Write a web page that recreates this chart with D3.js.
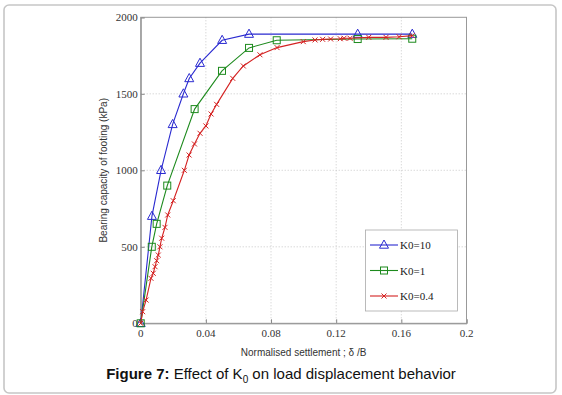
<!DOCTYPE html>
<html lang="en">
<head>
    <meta charset="UTF-8">
    <title>Effect of K0 on load displacement behavior</title>
    <script src="https://d3js.org/d3.v7.min.js"></script>
    <style>
        body { margin: 0; background: #fff; font-family: Arial, "Liberation Sans", sans-serif; }
        .tick-label { font-family: "Liberation Serif", "Times New Roman", serif; font-size: 11px; fill: #333; }
        .axis-title { font-size: 10px; fill: #333; }
        .legend-label { font-family: "Liberation Serif", "Times New Roman", serif; font-size: 11px; fill: #222; }
    </style>
</head>
<body>
<svg width="562" height="395"></svg>
<script>
    // K0 = 10
    const xK10 = [0, 0.0069, 0.0125, 0.0196, 0.0262, 0.0298, 0.0364, 0.050, 0.0665, 0.1332, 0.1667];
    const yK10 = [0, 700, 1000, 1300, 1500, 1600, 1700, 1850, 1890, 1890, 1890];
    // K0 = 1
    const xK1 = [0, 0.0068, 0.0098, 0.0163, 0.0331, 0.0499, 0.0665, 0.0835, 0.1332, 0.1667];
    const yK1 = [0, 500, 650, 900, 1400, 1650, 1800, 1850, 1858, 1860];
    // K0 = 0.4
    const xK04 = [0, 0.0012, 0.0033, 0.0063, 0.0077, 0.0088, 0.0098, 0.0108, 0.0118, 0.0129, 0.0149, 0.0166,
                  0.020, 0.0268, 0.0297, 0.0330, 0.0364, 0.040, 0.0432, 0.0466, 0.0565, 0.0630, 0.0732, 0.0837,
                  0.0998, 0.107, 0.1117, 0.1166, 0.1225, 0.1248, 0.1285, 0.140, 0.1506, 0.1586, 0.1667];
    const yK04 = [0, 76, 152, 294, 327, 370, 409, 446, 500, 556, 627, 708,
                  801, 1000, 1100, 1172, 1242, 1290, 1368, 1431, 1601, 1682, 1755, 1802,
                  1841, 1852, 1856, 1858, 1860, 1863, 1863, 1869, 1869, 1873, 1880];

    const xTicks = [0, 0.04, 0.08, 0.12, 0.16, 0.2];
    const yTicks = [0, 500, 1000, 1500, 2000];
    const seriesNames = ["K0=10", "K0=1", "K0=0.4"];

    const series = [
        { name: seriesNames[0], xs: xK10, ys: yK10, color: "#2a2ad0", marker: "tri" },
        { name: seriesNames[1], xs: xK1, ys: yK1, color: "#1d8a1d", marker: "sq" },
        { name: seriesNames[2], xs: xK04, ys: yK04, color: "#d42222", marker: "x" }
    ];

    const svg = d3.select("svg");

    // outer frame
    svg.append("rect")
        .attr("x", 4).attr("y", 5)
        .attr("width", 552).attr("height", 388)
        .attr("rx", 5)
        .attr("fill", "none")
        .attr("stroke", "#c6c6c6")
        .attr("stroke-width", 1.6);

    const plot = { left: 140.7, top: 17.3, right: 466.5, bottom: 323.3 };

    const x = d3.scaleLinear().domain([0, 0.2]).range([plot.left, plot.right]);
    const y = d3.scaleLinear().domain([0, 2000]).range([plot.bottom, plot.top]);

    // grid
    svg.append("g").selectAll("line")
        .data(xTicks.slice(1, -1))
        .enter().append("line")
        .attr("x1", d => x(d)).attr("x2", d => x(d))
        .attr("y1", plot.top).attr("y2", plot.bottom)
        .attr("stroke", "#bbb").attr("stroke-width", 0.8)
        .attr("stroke-dasharray", "1,2");
    svg.append("g").selectAll("line")
        .data(yTicks.slice(1, -1))
        .enter().append("line")
        .attr("y1", d => y(d)).attr("y2", d => y(d))
        .attr("x1", plot.left).attr("x2", plot.right)
        .attr("stroke", "#bbb").attr("stroke-width", 0.8)
        .attr("stroke-dasharray", "1,2");

    // axes
    const xAxis = svg.append("g")
        .attr("transform", `translate(0,${plot.bottom})`)
        .call(d3.axisTop(x).tickValues(xTicks).tickSize(4).tickFormat(""));
    const yAxis = svg.append("g")
        .attr("transform", `translate(${plot.left},0)`)
        .call(d3.axisRight(y).tickValues(yTicks).tickSize(4).tickFormat(""));
    [xAxis, yAxis].forEach(a => {
        a.selectAll("path").attr("stroke", "#888");
        a.selectAll("line").attr("stroke", "#888");
    });

    // top & right box
    svg.append("rect")
        .attr("x", plot.left).attr("y", plot.top)
        .attr("width", plot.right - plot.left).attr("height", plot.bottom - plot.top)
        .attr("fill", "none").attr("stroke", "#999").attr("stroke-width", 1);

    svg.append("g").selectAll("text")
        .data(xTicks)
        .enter().append("text")
        .attr("class", "tick-label")
        .attr("x", d => x(d)).attr("y", plot.bottom + 14)
        .attr("text-anchor", "middle")
        .text(d => d3.format("~g")(d));

    svg.append("g").selectAll("text")
        .data(yTicks)
        .enter().append("text")
        .attr("class", "tick-label")
        .attr("x", plot.left - 3).attr("y", d => y(d) + 4)
        .attr("text-anchor", "end")
        .text(d => d);

    svg.append("text")
        .attr("class", "axis-title")
        .attr("x", (plot.left + plot.right) / 2).attr("y", 356)
        .attr("text-anchor", "middle")
        .text("Normalised settlement ; \u03b4 /B");

    svg.append("text")
        .attr("class", "axis-title")
        .attr("transform", `translate(107,${(plot.top + plot.bottom) / 2}) rotate(-90)`)
        .attr("text-anchor", "middle")
        .text("Bearing capacity of footing (kPa)");

    function drawMarker(g, type, cx, cy, color) {
        if (type === "tri") {
            g.append("path")
                .attr("d", `M${cx},${cy - 5}L${cx + 4.5},${cy + 3.2}L${cx - 4.5},${cy + 3.2}Z`)
                .attr("fill", "none").attr("stroke", color).attr("stroke-width", 1);
        } else if (type === "sq") {
            g.append("rect")
                .attr("x", cx - 3.5).attr("y", cy - 3.5)
                .attr("width", 7).attr("height", 7)
                .attr("fill", "none").attr("stroke", color).attr("stroke-width", 1);
        } else {
            g.append("path")
                .attr("d", `M${cx - 2.5},${cy - 2.5}L${cx + 2.5},${cy + 2.5}M${cx - 2.5},${cy + 2.5}L${cx + 2.5},${cy - 2.5}`)
                .attr("stroke", color).attr("stroke-width", 1);
        }
    }

    const line = d3.line().x(d => x(d[0])).y(d => y(d[1]));

    series.forEach(s => {
        const pts = s.xs.map((v, i) => [v, s.ys[i]]);
        const g = svg.append("g");
        g.append("path")
            .datum(pts)
            .attr("d", line)
            .attr("fill", "none")
            .attr("stroke", s.color)
            .attr("stroke-width", 1.1);
        pts.forEach(p => drawMarker(g, s.marker, x(p[0]), y(p[1]), s.color));
    });

    // legend
    const legend = svg.append("g");
    legend.append("rect")
        .attr("x", 365.5).attr("y", 230)
        .attr("width", 92).attr("height", 81)
        .attr("fill", "#fff").attr("stroke", "#aaa").attr("stroke-width", 0.8);
    series.forEach((s, i) => {
        const ly = 245 + i * 25.5;
        legend.append("line")
            .attr("x1", 370).attr("x2", 398)
            .attr("y1", ly).attr("y2", ly)
            .attr("stroke", s.color).attr("stroke-width", 1.1);
        drawMarker(legend, s.marker, 384, ly, s.color);
        legend.append("text")
            .attr("class", "legend-label")
            .attr("x", 400).attr("y", ly + 4)
            .text(s.name);
    });

    // caption
    const cap = svg.append("text")
        .attr("x", 281).attr("y", 379)
        .attr("text-anchor", "middle")
        .attr("font-size", 15)
        .attr("fill", "#111");
    cap.append("tspan").attr("font-weight", "bold").text("Figure 7:");
    cap.append("tspan").text(" Effect of K");
    cap.append("tspan").attr("font-size", 10).attr("dy", 4).text("0");
    cap.append("tspan").attr("dy", -4).text(" on load displacement behavior");
</script>
</body>
</html>
